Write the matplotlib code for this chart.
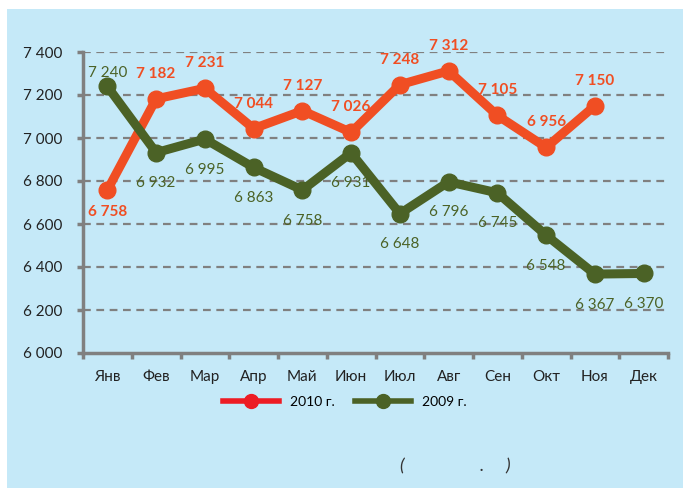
import matplotlib.pyplot as plt
import matplotlib.patches as mpatches
from matplotlib.lines import Line2D
import numpy as np

plt.rcParams['font.family'] = ['Lato', 'DejaVu Sans']

months = ["Янв", "Фев", "Мар", "Апр", "Май", "Июн", "Июл", "Авг", "Сен", "Окт", "Ноя", "Дек"]
y2010 = [6758, 7182, 7231, 7044, 7127, 7026, 7248, 7312, 7105, 6956, 7150]
y2009 = [7240, 6932, 6995, 6863, 6758, 6931, 6648, 6796, 6745, 6548, 6367, 6370]
yticks = [6000, 6200, 6400, 6600, 6800, 7000, 7200, 7400]

red = "#f04e23"
green = "#4b6226"
bg = "#c5e9f8"

def fmt(v):
    return f"{v:,}".replace(",", " ")

fig = plt.figure(figsize=(6.83, 4.88), dpi=100)
fig.patches.append(mpatches.Rectangle((7/683, 0), 1, 1 - 9/488, transform=fig.transFigure,
                                      facecolor=bg, edgecolor="none", zorder=-1))

ax = fig.add_axes([83/683, 1 - 353/488, 585/683, 301/488])
ax.set_facecolor("none")
x = np.arange(len(months))
ax.set_xlim(-0.5, 11.5)
ax.set_ylim(6000, 7400)

for yv in yticks[1:]:
    ax.axhline(yv, color="#808080", lw=1.6, ls=(0, (3.5, 2.5)), zorder=1)

ax.plot(x[:len(y2010)], y2010, color=red, lw=6.5, marker="o", ms=12, zorder=3, solid_capstyle="round")
ax.plot(x, y2009, color=green, lw=6.5, marker="o", ms=12, zorder=3, solid_capstyle="round")

# labels 2010 - above, first one below
for i, v in enumerate(y2010):
    dy = -16 if i == 0 else 18
    ax.annotate(fmt(v), (x[i], v), xytext=(0, dy), textcoords="offset points",
                ha="center", va="center", color=red, fontsize=11, fontweight="bold", zorder=4)
# labels 2009 - below, first one above
for i, v in enumerate(y2009):
    dy = 10 if i == 0 else -22
    ax.annotate(fmt(v), (x[i], v), xytext=(0, dy), textcoords="offset points",
                ha="center", va="center", color=green, fontsize=11, zorder=4)

for s in ["top", "right"]:
    ax.spines[s].set_visible(False)
for s in ["left", "bottom"]:
    ax.spines[s].set_color("#808080")
    ax.spines[s].set_linewidth(2.5)

ax.set_yticks(yticks)
ax.set_yticklabels([fmt(v) for v in yticks])
ax.set_xticks(np.arange(-0.5, 12.5, 1), minor=True)
ax.set_xticks(x)
ax.set_xticklabels(months)
ax.tick_params(axis="x", which="major", length=0, pad=12, labelsize=11, colors="#222222")
ax.tick_params(axis="x", which="minor", length=4, width=2.5, color="#808080")
ax.tick_params(axis="y", length=4, width=2.5, color="#808080", labelsize=11,
               labelcolor="#222222", pad=11)

handles = [Line2D([], [], color="#ed1c24", lw=4, marker="o", ms=10),
           Line2D([], [], color=green, lw=4, marker="o", ms=10)]
fig.legend(handles, ["2010 г.", "2009 г."], loc="center", bbox_to_anchor=(345/683, 1 - 402/488),
           ncol=2, frameon=False, fontsize=10, handlelength=4, columnspacing=1.5)

fig.text(402/683, 1 - 466/488, "(", fontsize=13, style="italic", ha="center", va="center", color="#333333")
fig.text(482/683, 1 - 466/488, ".", fontsize=13, style="italic", ha="center", va="center", color="#333333")
fig.text(508/683, 1 - 466/488, ")", fontsize=13, style="italic", ha="center", va="center", color="#333333")

fig.savefig("out.png", dpi=100)
